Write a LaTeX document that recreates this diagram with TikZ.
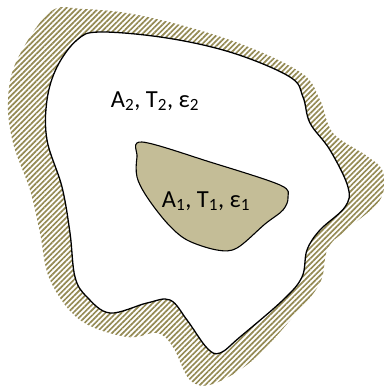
\documentclass[tikz,border=0pt]{standalone}
\usepackage{fontspec}
\setmainfont{Carlito}
\usetikzlibrary{patterns.meta}
\definecolor{hatchc}{HTML}{948A54}
\definecolor{tanc}{HTML}{C4BD97}
\begin{document}
\begin{tikzpicture}[x=1pt,y=-1pt,
  lbl/.style={font=\fontsize{24.5}{28}\selectfont, inner sep=0pt, anchor=base}]
\useasboundingbox (0,0) rectangle (385,386);
% outer hatched boundary
\path[pattern={Lines[angle=45,distance=3.8pt,line width=1.7pt]}, pattern color=hatchc]
  plot[smooth cycle, tension=0.6] coordinates {
  (50,12) (83,9) (143,16) (230,40) (300,72) (320,100) (333,133) (367,156) (383,172)
  (380,200) (350,227) (328,248) (320,283) (293,317) (253,360) (213,384) (190,380)
  (173,347) (157,333) (127,337) (80,320) (50,280) (40,233) (30,190) (13,143) (8,100) (17,60)};
% inner white region
\draw[line width=1.3pt, fill=white]
  plot[smooth cycle, tension=0.6] coordinates {
  (100,32) (167,38) (233,53) (290,77) (303,97) (310,123) (330,150) (348,187) (345,207)
  (320,230) (307,250) (302,277) (283,300) (240,337) (220,353) (207,348) (187,320)
  (170,300) (147,303) (110,313) (87,297) (75,277) (70,233) (62,187) (47,140) (47,100)
  (57,67) (77,40)};
% inner body
\draw[line width=1.1pt, fill=tanc]
  plot[smooth cycle, tension=0.55] coordinates {
  (142,142) (210,162) (280,185) (288,197) (283,210) (265,224) (237,248) (217,250)
  (187,240) (167,223) (147,197) (137,177) (137,157)};
\node[lbl] (t2) at (155,107) {A\textsubscript{2}, T\textsubscript{2}, ε\textsubscript{2}};
\node[lbl] (t1) at (206,207) {A\textsubscript{1}, T\textsubscript{1}, ε\textsubscript{1}};
\end{tikzpicture}
\end{document}
